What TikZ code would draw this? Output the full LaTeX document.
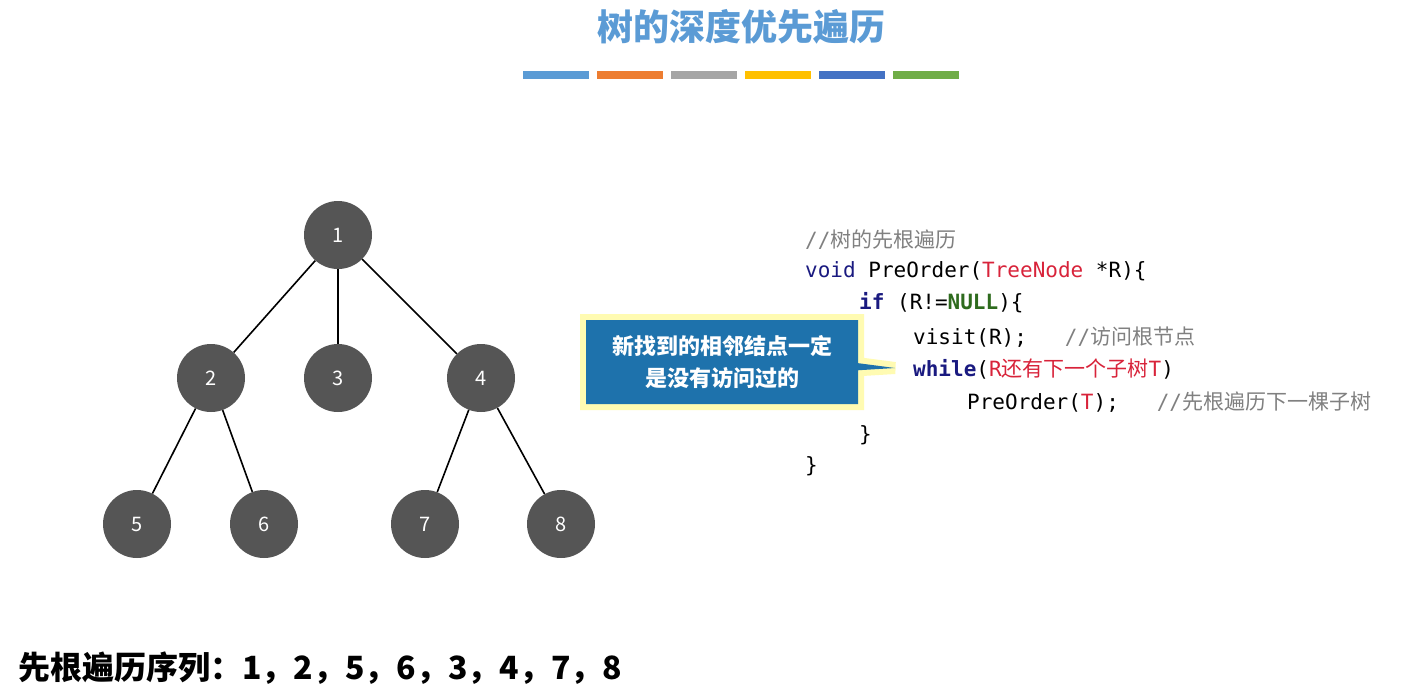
\documentclass[tikz,border=0pt]{standalone}
\usepackage{fontspec}
\setmainfont{Noto Sans CJK SC}
\setmonofont{DejaVu Sans Mono}
\newfontfamily\cjk{Noto Sans CJK SC}
\usetikzlibrary{shapes.callouts}
\definecolor{titleblue}{HTML}{5B9BD5}
\definecolor{nodegray}{HTML}{555555}
\definecolor{callblue}{HTML}{1E72AC}
\definecolor{kwblue}{HTML}{1A1A80}
\definecolor{typered}{HTML}{D8233A}
\definecolor{nullgreen}{HTML}{2E6B1E}
\definecolor{cmtgray}{HTML}{808080}
\begin{document}
\begin{tikzpicture}[x=1pt, y=-1pt,
  tnode/.style={circle, fill=nodegray, minimum size=68pt, inner sep=0pt, text=white, font=\fontsize{20}{24}\selectfont},
  edge/.style={draw, line width=1.6pt},
  bar/.style={minimum width=66pt, minimum height=8pt, inner sep=0pt},
  code/.style={anchor=west, inner sep=0pt, font=\ttfamily\fontsize{21}{24}\selectfont},
  cmt/.style={text=cmtgray}
]
\useasboundingbox (0,0) rectangle (1422,697);

% Title
\node[text=titleblue, font=\fontsize{36}{40}\selectfont\bfseries] (title) at (741,27) {树的深度优先遍历};
\foreach \c [count=\i] in {5B9BD5,ED7D31,A5A5A5,FFC000,4472C4,70AD47}{
  \definecolor{barc}{HTML}{\c}
  \node[bar, fill=barc] (bar\i) at (556+74*\i-74,75) {};
}

% Nodes
\node[tnode] (n1) at (338,235) {1};
\node[tnode] (n2) at (211,378) {2};
\node[tnode] (n3) at (338,378) {3};
\node[tnode] (n4) at (481,378) {4};
\node[tnode] (n5) at (137,524) {5};
\node[tnode] (n6) at (264,524) {6};
\node[tnode] (n7) at (425,524) {7};
\node[tnode] (n8) at (561,524) {8};

% Edges
\draw[edge] (n1) -- (n2);
\draw[edge] (n1) -- (n3);
\draw[edge] (n1) -- (n4);
\draw[edge] (n2) -- (n5);
\draw[edge] (n2) -- (n6);
\draw[edge] (n4) -- (n7);
\draw[edge] (n4) -- (n8);

% Code
\node[code, cmt] (c1) at (805,240) {//{\cjk 树的先根遍历}};
\node[code] (c2) at (805,271) {\textcolor{kwblue}{void} PreOrder(\textcolor{typered}{TreeNode} *R)\{};
\node[code] (c3) at (859,303) {\textcolor{kwblue}{\bfseries if} (R!=\textcolor{nullgreen}{\bfseries NULL})\{};
\node[code] (c4) at (913,337) {visit(R);\ \ \ \textcolor{cmtgray}{//{\cjk 访问根节点}}};
\node[code] (c5) at (913,369) {\textcolor{kwblue}{\bfseries while}(\textcolor{typered}{R{\cjk 还有下一个子树}T})};
\node[code] (c6) at (967,402) {PreOrder(\textcolor{typered}{T});\ \ \ \textcolor{cmtgray}{//{\cjk 先根遍历下一棵子树}}};
\node[code] (c7) at (859,435) {\}};
\node[code] (c8) at (805,466) {\}};

% Callout
\node[rectangle callout, fill=callblue, text=white, align=center,
  font=\fontsize{22}{32}\selectfont\bfseries, minimum width=272pt, minimum height=84pt,
  callout absolute pointer={(895,368)},
  preaction={draw=yellow!60, line width=12pt, opacity=0.5}]
  (tip) at (722,362) {新找到的相邻结点一定\\是没有访问过的};

% Sequence
\node[anchor=west, inner sep=0pt, font=\fontsize{32}{36}\selectfont\bfseries] (seq) at (18,668) {先根遍历序列：1，2，5，6，3，4，7，8};
\end{tikzpicture}
\end{document}
